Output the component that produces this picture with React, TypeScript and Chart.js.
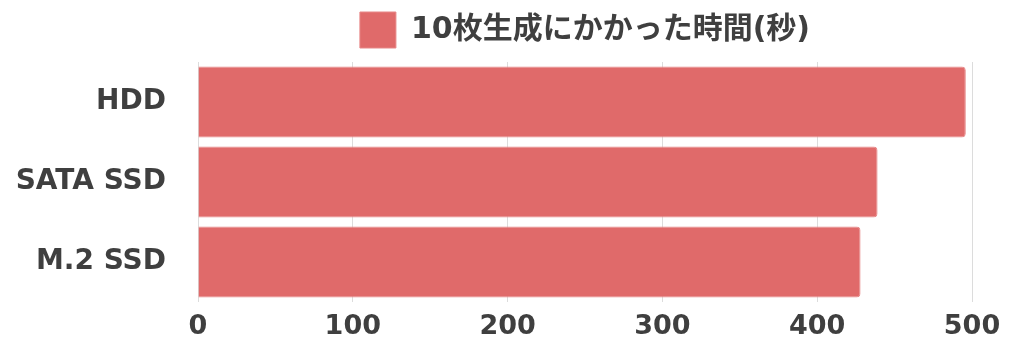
import React, { useEffect, useRef } from "react";
import { Chart, registerables } from "chart.js";

Chart.register(...registerables);

const categories = ["HDD", "SATA SSD", "M.2 SSD"];
const seriesLabel = "10枚生成にかかった時間(秒)";
const seriesValues = [496, 439, 428];
const xTickValues = [0, 100, 200, 300, 400, 500];

const FONT = "'DejaVu Sans', 'Noto Sans CJK JP', sans-serif";
const TEXT = "#3f3f3f";
const BAR = "#E06A6A";
const BAR_EDGE = "#E78787";
const GRID = "#dcdcdc";

export default function App() {
  const ref = useRef<HTMLCanvasElement>(null);

  useEffect(() => {
    document.body.style.margin = "0";
    const canvas = ref.current;
    if (!canvas) return;
    const chart = new Chart(canvas, {
      type: "bar",
      data: {
        labels: categories,
        datasets: [
          {
            label: seriesLabel,
            data: seriesValues,
            backgroundColor: BAR,
            borderColor: BAR_EDGE,
            borderWidth: 1,
            borderRadius: 4,
            borderSkipped: "start",
            categoryPercentage: 1,
            barPercentage: 0.89,
          },
        ],
      },
      options: {
        indexAxis: "y",
        animation: false,
        responsive: false,
        maintainAspectRatio: false,
        devicePixelRatio: 1,
        layout: { padding: { top: 2, left: 0, right: 52, bottom: 0 } },
        plugins: {
          legend: {
            position: "top",
            align: "center",
            fullSize: false,
            labels: {
              boxWidth: 36,
              boxHeight: 36,
              padding: 10,
              color: TEXT,
              font: { family: FONT, size: 30, weight: "bold" },
            },
          },
          title: {
            display: true,
            text: "",
            weight: 500,
            padding: 0,
            font: { size: 4, lineHeight: 1 },
          },
          tooltip: { enabled: false },
        },
        scales: {
          x: {
            type: "linear",
            min: xTickValues[0],
            max: xTickValues[xTickValues.length - 1],
            afterBuildTicks: (scale: any) => {
              scale.ticks = xTickValues.map((v) => ({ value: v }));
            },
            afterFit: (scale: any) => {
              scale.height = 45;
            },
            grid: { color: GRID, drawTicks: false, lineWidth: 1 },
            border: { display: false },
            ticks: {
              padding: 9,
              color: TEXT,
              font: { family: FONT, size: 27, weight: "bold" },
            },
          },
          y: {
            grid: { display: false, drawTicks: false },
            border: { display: false },
            afterFit: (scale: any) => {
              scale.width = 198;
              scale.paddingTop = 0;
              scale.paddingBottom = 0;
            },
            ticks: {
              padding: 32,
              color: TEXT,
              font: { family: FONT, size: 28, weight: "bold" },
            },
          },
        },
      },
    });
    return () => chart.destroy();
  }, []);

  return (
    <div style={{ width: 1024, height: 347, position: "relative", overflow: "hidden" }}>
      <canvas ref={ref} width={1024} height={347} style={{ display: "block" }} />
    </div>
  );
}
